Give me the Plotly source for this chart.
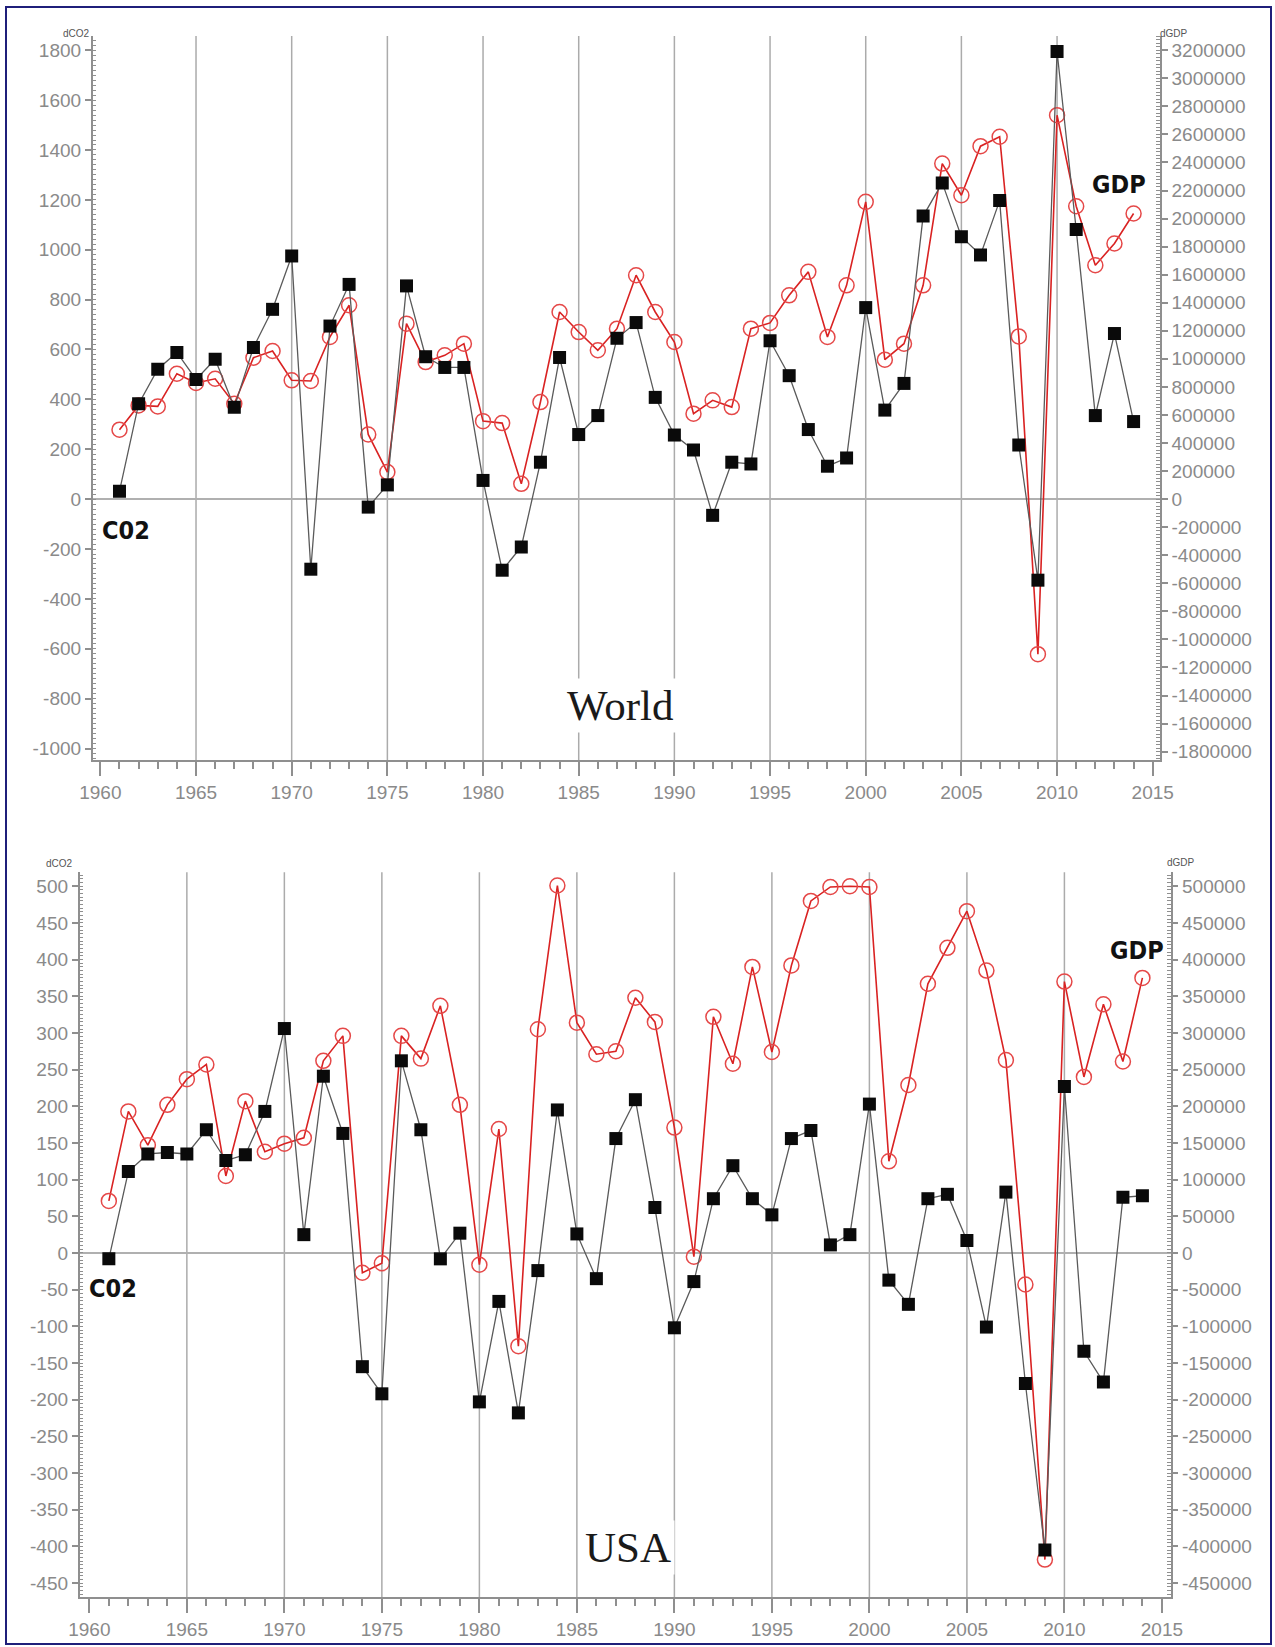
import plotly.graph_objects as go

W, H = 1275, 1647

years = list(range(1961, 2015))

world_co2 = [32, 382, 521, 588, 480, 561, 368, 608, 761, 975,
             -281, 694, 861, -32, 57, 855, 571, 528, 528, 75,
             -285, -192, 148, 568, 259, 335, 645, 708, 408, 257,
             197, -65, 148, 141, 635, 495, 279, 132, 165, 768,
             357, 464, 1135, 1268, 1052, 979, 1197, 217, -325, 1795,
             1081, 335, 664, 311]

world_gdp = [495000, 668000, 661000, 894000, 828000, 858000, 680000, 1008000, 1056000, 847000,
             842000, 1156000, 1382000, 461000, 193000, 1251000, 977000, 1025000, 1108000, 556000,
             542000, 109000, 692000, 1334000, 1191000, 1061000, 1215000, 1596000, 1334000, 1120000,
             609000, 704000, 656000, 1215000, 1256000, 1453000, 1620000, 1156000, 1524000, 2119000,
             994000, 1108000, 1524000, 2392000, 2166000, 2516000, 2583000, 1160000, -1105000, 2737000,
             2088000, 1667000, 1822000, 2036000]

usa_co2 = [-8, 111, 135, 137, 135, 168, 126, 134, 193, 306,
           25, 241, 163, -155, -192, 262, 168, -8, 27, -203,
           -66, -218, -24, 195, 26, -35, 156, 209, 62, -102,
           -39, 74, 119, 74, 52, 156, 167, 11, 25, 203,
           -37, -70, 74, 80, 17, -101, 83, -178, -405, 227,
           -134, -176, 76, 78]

usa_gdp = [71000, 193000, 147000, 202000, 237000, 257000, 105000, 207000, 138000, 149000,
           157000, 262000, 296000, -27000, -14000, 296000, 265000, 337000, 202000, -16000,
           169000, -127000, 305000, 501000, 314000, 271000, 275000, 348000, 315000, 171000,
           -5000, 322000, 258000, 390000, 274000, 392000, 480000, 499000, 500000, 499000,
           125000, 229000, 367000, 416000, 466000, 385000, 263000, -43000, -418000, 370000,
           240000, 339000, 261000, 375000]

grid_years = [1965, 1970, 1975, 1980, 1985, 1990, 1995, 2000, 2005, 2010]
world_co2_ticks = list(range(-1000, 1801, 200))
world_gdp_ticks = list(range(-1800000, 3200001, 200000))
usa_co2_ticks = list(range(-450, 501, 50))
usa_gdp_ticks = list(range(-450000, 500001, 50000))

GRAY = "#8a8a8a"
AXC = "#8f8f8f"
RED_LINE = "#d92222"
RED_MK = "#e54848"
tickfont = dict(family="Liberation Sans, Arial, sans-serif", size=19, color=GRAY)

fig = go.Figure()

# --- top: World ---
fig.add_trace(go.Scatter(x=years, y=world_gdp, mode="lines+markers", xaxis="x", yaxis="y",
                         line=dict(color=RED_LINE, width=1.6),
                         marker=dict(symbol="circle-open", size=15, color=RED_MK, line=dict(width=1.5)),
                         showlegend=False))
fig.add_trace(go.Scatter(x=years, y=world_co2, mode="lines+markers", xaxis="x", yaxis="y2",
                         line=dict(color="#5a5a5a", width=1.3),
                         marker=dict(symbol="square", size=13, color="#0a0a0a"),
                         showlegend=False))
# --- bottom: USA ---
fig.add_trace(go.Scatter(x=years, y=usa_gdp, mode="lines+markers", xaxis="x2", yaxis="y3",
                         line=dict(color=RED_LINE, width=1.6),
                         marker=dict(symbol="circle-open", size=15, color=RED_MK, line=dict(width=1.5)),
                         showlegend=False))
fig.add_trace(go.Scatter(x=years, y=usa_co2, mode="lines+markers", xaxis="x2", yaxis="y4",
                         line=dict(color="#5a5a5a", width=1.3),
                         marker=dict(symbol="square", size=13, color="#0a0a0a"),
                         showlegend=False))


def xaxis_cfg(domain, rng, anchor):
    return dict(domain=domain, range=rng, anchor=anchor, tick0=1960, dtick=5, automargin=False,
                showgrid=False, zeroline=False, showline=True, linecolor=AXC, linewidth=1.5,
                ticks="outside", ticklen=14, tickwidth=1.5, tickcolor=AXC, tickfont=tickfont,
                minor=dict(dtick=1, tick0=1960, ticks="outside", ticklen=7, tickwidth=1.5,
                           tickcolor=AXC, showgrid=False))


def yaxis_cfg(domain, rng, anchor, side, ticks, minor_dtick, overlaying=None, zeroline=False):
    d = dict(domain=domain, range=rng, anchor=anchor, side=side, automargin=False,
             tickmode="array", tickvals=ticks, ticktext=[str(v) for v in ticks],
             showgrid=False, zeroline=zeroline, zerolinecolor="#b0b0b0", zerolinewidth=1.5,
             showline=True, linecolor=AXC, linewidth=1.5,
             ticks="outside", ticklen=6, tickwidth=1.5, tickcolor=AXC, tickfont=tickfont,
             minor=dict(dtick=minor_dtick, tick0=0, ticks="inside", ticklen=4, tickwidth=1.2,
                        tickcolor=AXC, showgrid=False))
    if overlaying:
        d["overlaying"] = overlaying
    return d


top_dom_x = [92.7 / W, 1160 / W]
top_dom_y = [1 - 760 / H, 1 - 36 / H]
bot_dom_x = [79.6 / W, 1170.5 / W]
bot_dom_y = [1 - 1597 / H, 1 - 872.3 / H]

k_world = 3200000 / 1800
co2_top_rng = [-1046, 1857]
usa_rng = [-469, 519]

fig.update_layout(
    width=W, height=H, autosize=False,
    margin=dict(l=0, r=0, t=0, b=0, autoexpand=False),
    paper_bgcolor="white", plot_bgcolor="white",
    xaxis=xaxis_cfg(top_dom_x, [1959.6, 2015.38], "y"),
    xaxis2=xaxis_cfg(bot_dom_x, [1959.5, 2015.44], "y3"),
    yaxis=yaxis_cfg(top_dom_y, [co2_top_rng[0] * k_world, co2_top_rng[1] * k_world], "x", "right",
                    world_gdp_ticks, 25000),
    yaxis2=yaxis_cfg(top_dom_y, co2_top_rng, "x", "left", world_co2_ticks, 20,
                     overlaying="y", zeroline=True),
    yaxis3=yaxis_cfg(bot_dom_y, [usa_rng[0] * 1000, usa_rng[1] * 1000], "x2", "right",
                     usa_gdp_ticks, 5000),
    yaxis4=yaxis_cfg(bot_dom_y, usa_rng, "x2", "left", usa_co2_ticks, 5,
                     overlaying="y3", zeroline=True),
)

shapes = []
for gy in grid_years:
    shapes.append(dict(type="line", xref="x", yref="y domain", x0=gy, x1=gy, y0=0, y1=1,
                       line=dict(color="#ababab", width=1.5), layer="below"))
    shapes.append(dict(type="line", xref="x2", yref="y3 domain", x0=gy, x1=gy, y0=0, y1=1,
                       line=dict(color="#ababab", width=1.5), layer="below"))
shapes.append(dict(type="rect", xref="paper", yref="paper",
                   x0=6 / W, x1=1271 / W, y0=1 - 1644 / H, y1=1 - 7 / H,
                   line=dict(color="#1f1f7a", width=2), fillcolor="rgba(0,0,0,0)", layer="above"))
fig.update_layout(shapes=shapes)

bold = dict(family="Liberation Sans Narrow, DejaVu Sans Condensed, Liberation Sans, sans-serif",
            size=25, color="#111")
small = dict(family="Liberation Sans, Arial, sans-serif", size=10, color="#555")
serif = dict(family="Liberation Serif, Times New Roman, serif", size=43, color="#1a1a1a")

annotations = [
    dict(text="<b>C02</b>", x=1961.33, y=-125, xref="x", yref="y2", showarrow=False, font=bold),
    dict(text="<b>GDP</b>", x=2013.24, y=1260, xref="x", yref="y2", showarrow=False, font=bold),
    dict(text="<b>C02</b>", x=1961.2, y=-48, xref="x2", yref="y4", showarrow=False, font=bold),
    dict(text="<b>GDP</b>", x=2013.7, y=413, xref="x2", yref="y4", showarrow=False, font=bold),
    dict(text="World", x=1987.18, y=-826, xref="x", yref="y2", showarrow=False, font=serif,
         bgcolor="white", borderpad=3),
    dict(text="USA", x=1987.6, y=-401, xref="x2", yref="y4", showarrow=False, font=serif,
         bgcolor="white", borderpad=3),
    dict(text="dCO2", x=61 / W, y=1 - 26 / H, xref="paper", yref="paper", showarrow=False, font=small),
    dict(text="dGDP", x=1190 / W, y=1 - 26 / H, xref="paper", yref="paper", showarrow=False, font=small),
    dict(text="dCO2", x=44 / W, y=1 - 863 / H, xref="paper", yref="paper", showarrow=False, font=small),
    dict(text="dGDP", x=1197 / W, y=1 - 862 / H, xref="paper", yref="paper", showarrow=False, font=small),
]
fig.update_layout(annotations=annotations)

fig.write_html("out.html", config={"displayModeBar": False},
               post_script="document.body.style.margin='0';document.body.style.overflow='hidden';")
